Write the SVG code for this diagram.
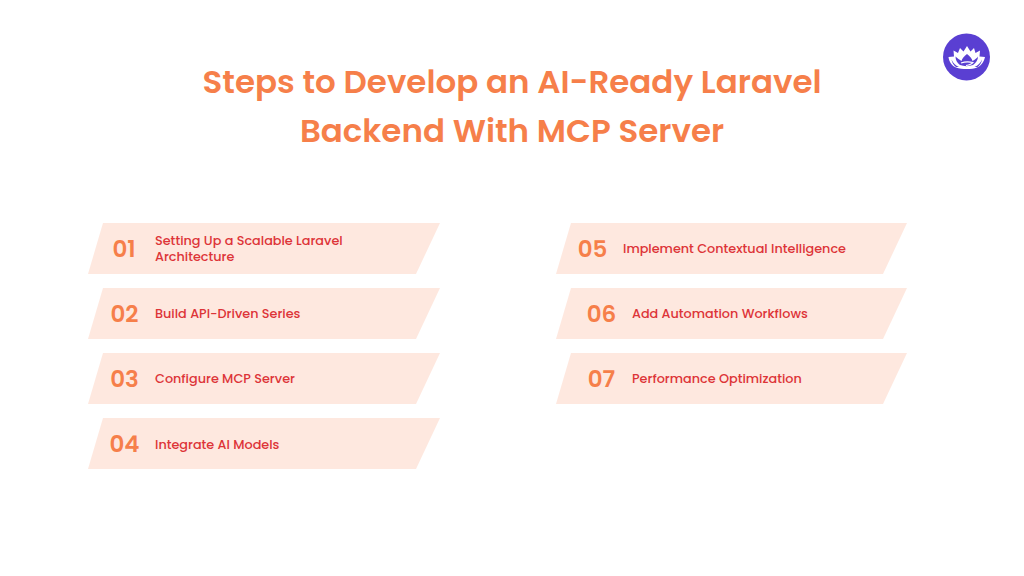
<svg xmlns="http://www.w3.org/2000/svg" width="1024" height="576" viewBox="0 0 1024 576">
<style>
.t{font-family:"Poppins","Open Sans","Noto Sans",sans-serif;}
.h{font-size:32.5px;font-weight:600;fill:#f67f4a;text-anchor:middle}
.n{font-size:23px;font-weight:600;fill:#f67f4a;text-anchor:middle}
.l{font-size:12.8px;font-weight:500;fill:#dd3438}
.b{fill:#fee8df}
</style>
<rect width="1024" height="576" fill="#fff"/>
<g id="title"><text class="t h" x="512" y="93">Steps to Develop an AI-Ready Laravel</text><text class="t h" x="512" y="142">Backend With MCP Server</text></g>
<g id="logo"><circle cx="966.5" cy="57" r="23.5" fill="#5a3fd2"/>
<path d="M967 46L970.500 51.500L974 48L975.500 53L980 50.500L979.500 56.500L985 57C984 62 981 66 977 67.500C972 69.500 962 69.500 956 67.500C952 66 949 62 948.500 57L954 56.500L953.500 50.500L958 53L960 48L963.500 51.500Z" fill="#fff"/>
<path d="M967 54C970 56 972 59 972.500 61C975 59.500 977 58 978 56.500C978 60 976 63 973 65C969 66.500 964 66.500 960 65C957 63 955.500 60 955.500 56.500C957 58 959 59.500 961.500 61C962 59 964 56 967 54Z" fill="#5a3fd2"/>
<path d="M951.500 59.500C953 63 955.500 65.500 959 67L956 67C953.500 65 952 62.500 951.500 59.500ZM982 59.500C980.500 63 978 65.500 974.500 67L977.500 67C980 65 981.500 62.500 982 59.500Z" fill="#5a3fd2"/>
<path d="M961 63C965 61.500 969 61.500 973 62.500C972 64 969 65 966 65.500" fill="none" stroke="#fff" stroke-width="1.200"/></g>
<g id="step1"><polygon class="b" points="103,223 440,223 416,274 88,274"/><text class="t n" x="124" y="256.700">01</text><text class="t l" x="155" y="245">Setting Up a Scalable Laravel</text><text class="t l" x="155" y="261">Architecture</text></g>
<g id="step2"><polygon class="b" points="103,288 440,288 416,339 88,339"/><text class="t n" x="124.500" y="321.700">02</text><text class="t l" x="155" y="318">Build API-Driven Series</text></g>
<g id="step3"><polygon class="b" points="103,353 440,353 416,404 88,404"/><text class="t n" x="124.500" y="386.700">03</text><text class="t l" x="155" y="383">Configure MCP Server</text></g>
<g id="step4"><polygon class="b" points="103,418 440,418 416,469 88,469"/><text class="t n" x="124.500" y="451.700">04</text><text class="t l" x="155" y="449">Integrate AI Models</text></g>
<g id="step5"><polygon class="b" points="571,223 907,223 883,274 556,274"/><text class="t n" x="592.500" y="256.700">05</text><text class="t l" x="623" y="253">Implement Contextual Intelligence</text></g>
<g id="step6"><polygon class="b" points="571,288 907,288 883,339 556,339"/><text class="t n" x="601.500" y="321.700">06</text><text class="t l" x="632" y="318">Add Automation Workflows</text></g>
<g id="step7"><polygon class="b" points="571,353 907,353 883,404 556,404"/><text class="t n" x="601.500" y="386.700">07</text><text class="t l" x="632" y="383">Performance Optimization</text></g>
</svg>
